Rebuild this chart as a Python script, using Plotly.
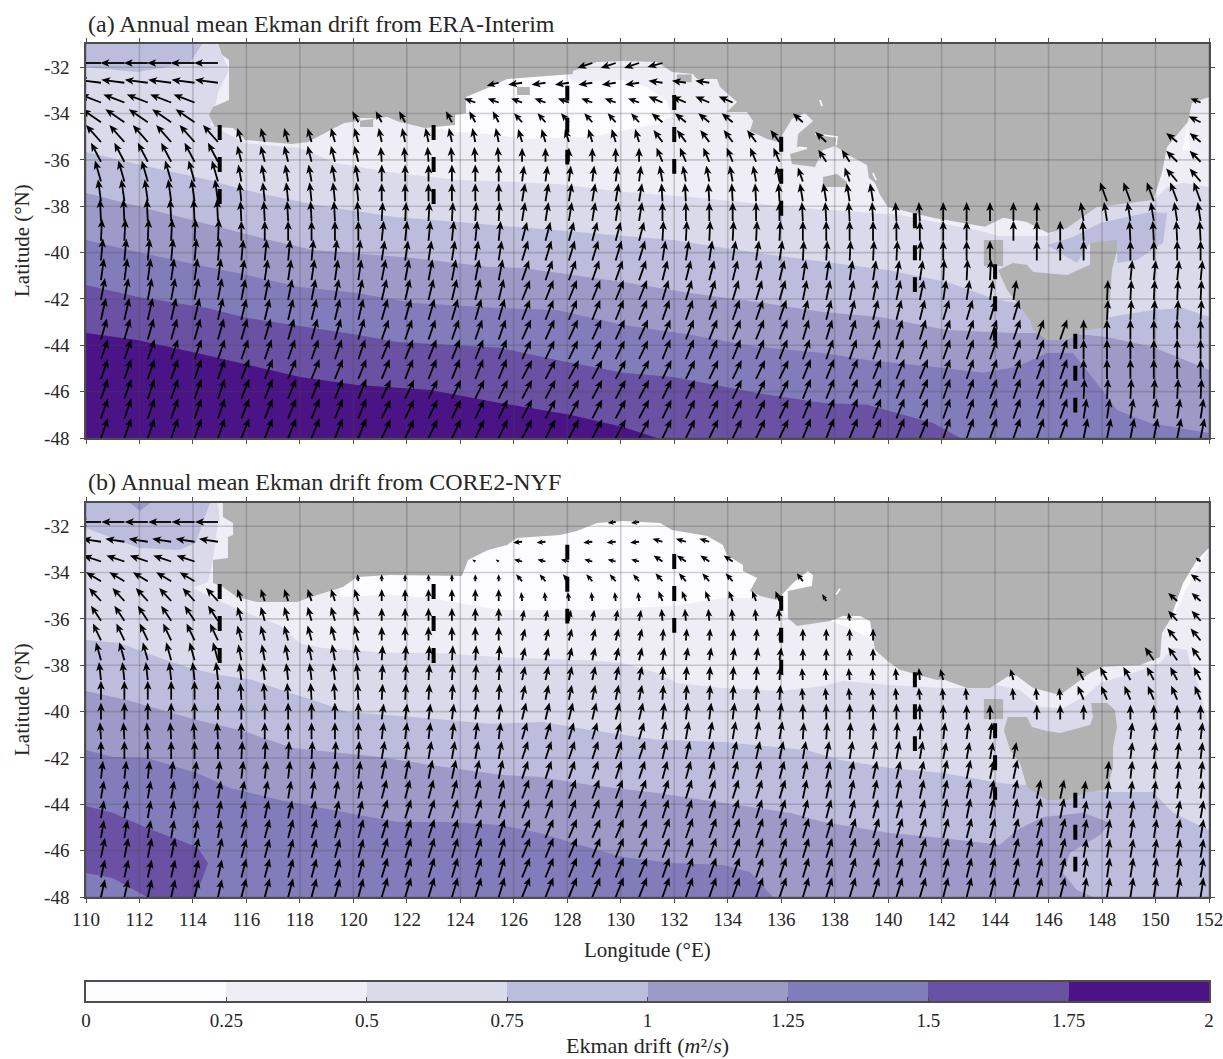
import numpy as np
import plotly.graph_objects as go

W, H = 1223, 1059
LEVELS = [0, 0.25, 0.5, 0.75, 1, 1.25, 1.5, 1.75, 2]
LEVEL_LABELS = ["0", "0.25", "0.5", "0.75", "1", "1.25", "1.5", "1.75", "2"]
COLORS = ["#fcfbfd", "#efedf5", "#dadaeb", "#bcbddc", "#9e9ac8", "#807dba", "#6a51a3", "#4a1486"]
LAND = "#b2b2b2"
LON_TICKS = list(range(110, 153, 2))
LAT_TICKS = list(range(-32, -49, -2))

# Arrow grid (tails)
ARROW_LON = [round(110.56 + 0.875 * j, 3) for j in range(48)]
ARROW_LAT = [round(-31.82 - 0.852 * r, 3) for r in range(20)]

# Quiver readings: one row per latitude, one value per block of six longitudes
U_A = [
 [-24,0,0,-15,-15,0,0,0],[-23,0,-12,-14,-14,0,0,0],[-21,0,-11,-11,-14,0,0,-10],[-19,-6,-6,-8,-11,-10,0,-12],
 [-15,-4,-3,-4,-9,-11,0,-11],[-10,-4,-1,0,-6,-8,0,-11],[-6,-3,0,2,-3,-5,0,-11],[-3,-2,0,3,-1,-3,0,-7],
 [-1,-1,1,3,0,-1,0,-3],[1,0,2,5,1,0,0,-1],[2,2,3,6,3,1,0,0],[3,3,4,7,5,3,1,2],
 [4,4,5,8,6,4,3,1],[5,5,6,8,7,5,6,1],[6,6,7,9,8,6,7,0],[7,7,8,9,8,7,7,0],
 [7,8,8,10,9,8,7,0],[7,8,9,10,9,8,7,1],[7,8,9,10,9,8,7,3],[7,8,9,10,9,8,7,4]]
V_A = [
 [0,0,0,-5,-4,0,0,0],[3,0,-3,-2,2,0,0,0],[8,0,4,4,6,0,0,4],[13,11,11,9,9,9,0,6],
 [17,14,14,13,12,10,0,9],[19,16,15,14,14,12,0,11],[21,17,17,16,16,14,0,13],[22,19,18,18,18,18,0,19],
 [22,20,19,19,19,19,19,19],[22,20,20,19,20,20,20,20],[22,21,20,20,20,20,20,20],[22,21,21,20,20,20,21,20],
 [22,21,21,20,20,20,20,20],[22,21,21,20,20,20,20,20],[21,21,20,20,20,20,20,20],[20,20,20,19,20,20,20,20],
 [20,20,20,19,19,20,20,20],[20,20,19,19,19,20,20,20],[20,20,19,19,19,20,20,20],[20,20,19,19,19,20,20,20]]
U_B = [
 [-23,0,0,-8,-8,0,0,0],[-19,0,0,-9,-10,0,0,0],[-18,0,-3,-8,-9,0,0,-5],[-15,-1,0,-6,-7,-6,0,-10],
 [-12,-4,0,-1,-4,-4,0,-9],[-10,-4,0,2,-1,-1,0,-9],[-8,-4,0,3,1,0,0,-10],[-5,-3,1,3,2,0,0,-9],
 [-2,-2,1,3,1,-1,-3,-7],[0,-1,1,3,1,-1,-1,-6],[0,0,2,4,2,0,0,0],[-1,0,2,5,3,1,2,2],
 [0,1,3,6,4,3,3,2],[2,2,4,6,5,4,4,2],[3,3,5,7,6,4,4,2],[3,4,6,7,6,5,4,3],
 [3,5,6,8,7,6,5,3],[4,5,6,8,7,6,5,3],[4,5,6,8,7,6,5,3],[4,5,6,8,7,6,5,3]]
V_B = [
 [0,0,0,-1,-1,0,0,0],[3,0,0,-1,3,0,0,0],[6,0,2,2,6,0,0,4],[9,7,7,7,8,8,0,7],
 [13,12,12,9,10,7,0,8],[15,14,13,11,12,8,0,10],[17,15,14,12,12,12,0,12],[18,16,15,13,13,12,0,13],
 [18,17,16,14,14,12,11,13],[19,17,16,15,15,12,12,14],[17,17,16,17,17,16,15,15],[17,17,17,17,18,17,17,17],
 [18,18,18,18,18,18,17,17],[18,18,19,18,18,18,19,18],[18,18,19,19,19,19,19,18],[18,18,19,19,19,19,20,18],
 [18,19,19,19,20,20,20,19],[20,19,20,20,20,20,20,19],[18,19,20,20,20,20,20,20],[18,19,20,20,20,20,20,20]]

# Column ranges with an arrow in each row
ALL = [(0, 47)]
DRAWN_A = [[(0,5),(21,24)],[(0,5),(17,26)],[(0,4),(16,27),(47,47)],[(0,4),(11,13),(15,27),(30,30),(47,47)],
 [(0,29),(31,31),(46,47)],[(0,29),(31,32),(46,47)],[(0,30),(32,32),(46,47)],[(0,33),(43,47)],
 [(0,40),(42,47)],[(0,37),(39,42),(44,47)],[(0,38),(40,42),(44,47)],[(0,38),(44,47)],
 [(0,39),(43,47)],[(0,39),(43,47)],ALL,ALL,ALL,ALL,ALL,ALL]
DRAWN_B = [[(0,5),(22,23)],[(0,5),(18,19),(21,26)],[(0,4),(16,27),(47,47)],[(0,4),(11,27),(30,30),(47,47)],
 [(0,29),(31,31),(46,47)],[(0,29),(32,32),(46,47)],[(0,33),(46,47)],[(0,33),(45,47)],
 [(0,36),(39,39),(42,47)],[(0,37),(39,47)],[(0,38),(40,42),(44,47)],[(0,38),(44,47)],
 [(0,39),(44,47)],[(0,39),(43,47)],ALL,ALL,ALL,ALL,ALL,ALL]

# Thick dashed sections
SECTION_LON = [115, 123, 128, 132, 136, 141, 144, 147]
SECTION_N = [-34.5, -34.5, -32.8, -33.2, -35.0, -38.3, -40.5, -43.5]
SECTION_S = [-38.0, -38.0, -36.2, -36.6, -38.5, -41.7, -43.8, -46.9]

# Land, panel a
LAND_A = [(114.94,-31),(115.09,-31.47),(115.35,-31.69),(115.35,-33.42),(114.75,-33.72),(114.6,-34.06),(114.82,-34.58),
 (115.5,-34.62),(115.95,-35.14),(117.7,-35.31),(118.3,-35.23),(119.65,-34.41),(121.26,-34.15),(121.7,-34.36),(122.68,-34.62),
 (123.8,-34.49),(123.8,-34.06),(124.21,-33.98),(124.21,-33.29),(125.11,-32.86),(125.75,-32.51),(127.35,-32.38),(128.21,-32.29),
 (128.21,-32.16),(129.11,-31.78),(130.08,-31.73),(131.36,-31.78),(131.92,-32.21),(132.7,-32.29),(132.85,-32.51),(133.6,-32.51),
 (133.71,-32.86),(134.35,-33.5),(133.97,-33.93),(134.72,-33.93),(134.95,-34.32),(134.83,-34.75),(135.47,-35.1),(135.88,-35.23),
 (136.4,-34.24),(136.89,-33.98),(137.19,-34.32),(136.63,-34.88),(136.59,-35.44),(136.97,-35.53),(136.33,-35.75),(136.4,-36.18),
 (137.26,-36.31),(137.56,-35.57),(138.01,-35.4),(138.65,-35.88),(139.21,-36.22),(139.28,-36.78),(139.51,-37),(139.7,-37.51),
 (139.99,-38.03),(140.89,-38.29),(141.68,-38.5),(143.62,-38.89),(144.3,-38.5),(145.19,-38.68),(145.98,-39.15),(146.69,-38.94),
 (147.81,-38.03),(149.91,-37.73),(150.24,-36.57),(150.43,-35.44),(151.21,-34.36),(151.36,-33.55),(152,-33.29),(152,-31)]
TAS_A = [(144.11,-40.75),(144.67,-40.45),(145.19,-40.53),(145.42,-40.84),(146.69,-40.97),(147.55,-40.53),(147.55,-39.58),
 (148.56,-39.46),(148.56,-39.89),(148.37,-40.75),(148.3,-42.04),(148.19,-43.21),(147.44,-43.34),(146.69,-43.77),(145.94,-43.77),
 (145.42,-43.34),(145.31,-42.91),(144.82,-42.17),(144.45,-41.61)]
KING_A = [(143.58,-39.46),(144.3,-39.46),(144.3,-40.58),(143.58,-40.58)]
KANGAROO_A = [(137.56,-36.74),(138.09,-36.61),(138.46,-36.95),(138.46,-37.17),(137.56,-37.17)]
ISLET1_A = [(126.12,-32.86),(126.6,-32.86),(126.6,-33.2),(126.12,-33.2)]
ISLET2_A = [(120.25,-34.19),(120.74,-34.19),(120.74,-34.58),(120.25,-34.58)]
ISLET3_A = [(132.1,-32.32),(132.65,-32.32),(132.65,-32.65),(132.1,-32.65)]
SPECKS_A = [[(137.45,-33.42),(137.53,-33.68)],[(139.43,-36.57),(139.55,-36.87)],
            [(137.26,-34.88),(138.09,-35.01),(138.05,-35.38)],[(136.65,-35.45),(136.97,-35.5)]]

# Land, panel b
LAND_B = [(115.12,-31),(115.12,-31.6),(115.5,-31.86),(115.5,-32.38),(115.31,-32.47),(115.31,-33.37),(114.75,-33.46),(114.75,-34.45),
 (115.12,-34.62),(115.65,-35.06),(116.4,-35.27),(117.89,-35.27),(118.64,-34.97),(119.61,-34.62),(120.14,-34.19),(121.37,-34.11),
 (124.06,-34.15),(124.29,-33.46),(125.03,-33.03),(125.75,-32.81),(126.12,-32.51),(127.73,-32.38),(128.36,-32.21),(129.11,-31.86),
 (130.08,-31.78),(131.47,-31.86),(131.92,-32.16),(133.23,-32.42),(133.82,-32.81),(133.97,-33.24),(134.57,-33.67),(134.57,-33.93),
 (135.1,-34.24),(134.83,-34.8),(135.21,-35.01),(135.84,-35.18),(136.44,-34.45),(137.0,-33.93),(137.19,-34.11),(137.15,-34.58),
 (136.25,-34.8),(136.25,-35.96),(136.59,-36.31),(137.83,-36.09),(138.31,-35.88),(138.95,-35.88),(139.32,-36.09),(139.51,-37.34),
 (140.07,-37.9),(140.44,-38.2),(141.83,-38.64),(142.05,-38.6),(142.95,-38.98),(143.81,-38.98),(144.67,-38.33),(145.42,-38.98),
 (146.43,-39.28),(147.55,-38.33),(148.04,-38.07),(149.42,-37.99),(150.17,-37.64),(150.24,-36.61),(150.54,-36.05),(151.03,-34.45),
 (151.55,-33.46),(152,-32.94),(152,-31)]
TAS_B = [(144.33,-40.79),(144.48,-40.23),(145.19,-40.23),(145.38,-40.66),(145.94,-40.84),(146.43,-40.92),(147.55,-40.58),(147.66,-40.23),
 (147.59,-39.63),(148.19,-39.63),(148.48,-39.93),(148.56,-40.66),(148.41,-41.53),(148.41,-42.39),(148.19,-43.38),(147.44,-43.47),
 (146.69,-43.81),(145.94,-43.81),(145.19,-43.25),(144.93,-42.22),(144.56,-41.66)]
KING_B = [(143.58,-39.46),(144.3,-39.46),(144.3,-40.32),(143.58,-40.32)]
SPECKS_B = [[(138.05,-34.95),(138.2,-34.7)]]

# Drift band outlines, panel a
WHITE_A = [[(121.18,-34.19),(121.56,-34.28),(123.8,-34.8),(125.11,-34.88),(126.34,-35.1),(128.85,-35.01),(131.36,-34.45),(131.92,-34.11),
            (131.73,-33.46),(130.98,-32.86),(130.08,-32.55),(128.21,-32.64),(127.95,-32.21),(125.48,-31.7),(121,-33.4)],
           [(151.0,-35.6),(151.2,-34.5),(151.3,-35.6)],[(148.4,-41.2),(148.8,-42),(148.5,-42.1)]]
EDGE_050_A = [(110,-31),(114.9,-31),(115.35,-32.12),(114.94,-33.07),(114.67,-34.49),(115.95,-35.27),(118,-35.49),(119.35,-36.13),(121.56,-36.57),
 (123.91,-36.87),(125.11,-36.91),(127.61,-37.04),(130.08,-37.38),(132.59,-37.6),(136.33,-38.03),(138.94,-38.25),(140.44,-38.38),(143.62,-39.11),
 (144.1,-39.28),(145.94,-39.28),(146.43,-38.85),(147.81,-37.95),(150.05,-37.6),(150.43,-37.17),(151.02,-37),(152,-37.17),(152,-48),(110,-48)]
PATCH_075_A = [[(110,-31),(110,-32),(111.94,-32.21),(113.89,-31.82),(114.34,-31)],
 [(150.43,-38.29),(150.28,-39.59),(149.31,-40.32),(148.56,-40.45),(148.56,-39.54),(147.55,-39.58),(147.06,-40.45),(145.94,-39.67),
  (146.91,-39.33),(147.92,-38.72),(149.79,-38.25)]]
EDGE_075_A = [(110,-35.66),(112.39,-36.31),(114.6,-36.87),(115.95,-37.3),(118.6,-37.95),(121.56,-38.46),(123.91,-38.68),(127.46,-39.02),(129.82,-39.24),
 (131.95,-39.46),(135.1,-40.02),(137.71,-40.4),(139.96,-40.75),(142.2,-41.27),(144.07,-42.04),(148.3,-42.78),(149.9,-42.48),(151.02,-42.39),(152,-42.78),(152,-48),(110,-48)]
EDGE_100_A = [(110,-37.43),(114.19,-38.68),(116.88,-39.46),(118.49,-39.89),(122.23,-40.23),(125.11,-40.62),(126.34,-40.66),(130.08,-41.27),(132.59,-41.74),
 (135.1,-42.13),(137.56,-42.56),(139.69,-42.78),(142.2,-43.34),(144.67,-43.47),(146.69,-43.47),(148.19,-43.64),(149.9,-44.07),(152,-45.06),(152,-48),(110,-48)]
EDGE_125_A = [(110,-39.46),(111.91,-39.97),(114.15,-40.53),(116.02,-40.97),(118,-41.48),(120.14,-41.74),(122.23,-42.17),(125.48,-42.39),(127.61,-42.48),
 (130.08,-43.12),(132.59,-43.55),(135.1,-44.07),(137.56,-44.33),(139.21,-44.63),(141.68,-44.93),(143.55,-45.19),(144.82,-44.93),(145.94,-44.33),(146.91,-44.33),
 (147.92,-45.8),(148.56,-46.79),(149.79,-47.35),(152,-47.78),(152,-48),(110,-48)]
EDGE_150_A = [(110,-41.4),(111.91,-41.91),(114.53,-42.39),(116.02,-42.82),(120.14,-43.55),(121.63,-43.86),(125.48,-44.11),(127.61,-44.63),(130.08,-45.19),
 (131.95,-45.37),(135.1,-46.06),(137.56,-46.49),(139.21,-46.57),(141.68,-47.35),(142.69,-48),(110,-48)]
EDGE_175_A = [(110,-43.47),(111.91,-43.77),(114.15,-44.33),(116.02,-44.85),(118,-45.37),(120.14,-45.71),(122.87,-45.93),(125.48,-46.49),(128.1,-47),
 (130.08,-47.52),(131.36,-48),(110,-48)]

# Drift band outlines, panel b
WHITE_B = [[(119.5,-35.06),(121.26,-34.97),(122.86,-35.1),(125.48,-35.62),(128.85,-35.62),(131.95,-35.44),(133.82,-35.1),(135.1,-35.1),(135.58,-34.75),
            (135.2,-32.6),(130,-31.5),(124.36,-33),(119.5,-34)],
           [(135.84,-35.18),(136.44,-34.45),(137.0,-33.93),(137.19,-34.11),(137.15,-34.58),(136.25,-34.8),(136.25,-35.96)],
           [(137.83,-36.09),(138.57,-36.39),(139.39,-36.91),(139.58,-37.47),(139.9,-37.2),(139.3,-35.5),(138.2,-35.5)],
           [(150.38,-36.2),(150.75,-35.7),(151.12,-34.8),(151.55,-33.85),(152,-33),(151.3,-33),(150.2,-36.2)]]
EDGE_050_B = [(110,-31),(114.94,-31),(115,-31.73),(114.9,-32.16),(114.75,-33.46),(114.56,-34.41),(114,-34.67),(114.64,-35.06),(116.02,-35.75),(117.25,-36.27),
 (118,-37.05),(118.86,-37.26),(121,-37.44),(123.5,-37.49),(125.48,-37.66),(128.85,-37.78),(130.08,-37.9),(131.36,-38.33),(132.1,-38.77),(133.82,-38.98),
 (135.96,-39.11),(137.56,-38.9),(138.31,-38.68),(140.07,-38.85),(142.05,-38.98),(143.62,-38.98),(144.07,-38.85),(144.93,-39.07),(145.68,-39.8),(146.54,-39.84),
 (147.44,-39.28),(147.92,-38.77),(149.16,-38.33),(150.17,-37.9),(150.65,-37.25),(151.18,-37.34),(151.29,-37.9),(151.59,-38.77),(152,-40.66),(152,-48),(110,-48)]
PATCH_075_B = [[(110,-31),(110,-32.08),(110.97,-32.51),(111.98,-32.94),(113.47,-33.03),(114.1,-32.73),(114.4,-31.73),(114.64,-31)]]
PATCH_100_B = [[(111.65,-31),(112.02,-31.34),(112.4,-31)]]
EDGE_075_B = [(110,-36.91),(111.27,-37.04),(112.66,-37.64),(113.89,-38.12),(115,-38.42),(116.25,-38.64),(117.63,-39.2),(118.49,-39.5),(119.76,-40.02),(122.23,-40.23),
 (125.11,-40.53),(127.09,-40.45),(128.85,-40.79),(131.36,-41.22),(133.82,-41.31),(136.96,-41.66),(138.2,-42.09),(140.07,-42.43),(142.05,-42.65),(144.18,-43.08),
 (148.19,-43.47),(149.9,-43.47),(150.65,-44.37),(152,-45.11),(152,-48),(110,-48)]
EDGE_100_B = [(110,-39.11),(111.53,-39.5),(114.15,-40.36),(115.76,-40.79),(117.74,-41.57),(119.5,-41.79),(121,-41.96),(122.87,-42.3),(125.48,-42.73),(126.98,-42.82),
 (128.85,-43.17),(131.36,-43.51),(133.82,-43.94),(136.33,-44.37),(137.56,-44.76),(140.07,-45.24),(141.68,-45.41),(144.18,-45.75),(144.82,-45.11),(145.79,-44.55),
 (147.29,-44.37),(148.3,-44.8),(147.92,-45.32),(146.8,-46.1),(146.54,-46.96),(147.06,-47.7),(147.66,-48),(110,-48)]
EDGE_125_B = [(110,-41.66),(111,-41.96),(112.28,-42),(114.15,-42.65),(115.39,-43.3),(117.25,-43.81),(119.76,-44.37),(121.63,-44.76),(123.5,-44.76),(125.48,-44.89),
 (126.98,-45.24),(128.21,-45.67),(130.08,-46.27),(131.95,-46.53),(133.82,-46.62),(134.83,-46.92),(135.69,-48),(110,-48)]
PATCH_150_B = [[(110,-44.07),(111,-44.37),(112.28,-45.02),(114.15,-45.84),(114.56,-46.53),(114.38,-47.13),(114.08,-48),(112.28,-48),(111,-47.18),(110,-46.96)]]

PX_PER_LON = 1123 / 42
PX_PER_LAT = 394 / 17
SERIF = "Liberation Serif"
INK = "#262626"
FRAME = "#4d4d4d"


def rings(polys):
    xs, ys = [], []
    for p in polys:
        xs += [q[0] for q in p] + [p[0][0], None]
        ys += [q[1] for q in p] + [p[0][1], None]
    return xs, ys


def fill(fig, polys, color, ax, ay):
    xs, ys = rings(polys)
    fig.add_trace(go.Scatter(x=xs, y=ys, xaxis=ax, yaxis=ay, mode="lines", fill="toself", fillcolor=color,
                             line=dict(width=0, color=color), hoverinfo="skip", showlegend=False))


def quiver(fig, U, V, drawn, ax, ay):
    lx, ly, hx, hy = [], [], [], []
    for r, ranges in enumerate(drawn):
        for a, b in ranges:
            for j in range(a, b + 1):
                u, v = U[r][j // 6], V[r][j // 6]
                n = (u * u + v * v) ** 0.5
                if n == 0:
                    continue
                x0, y0 = ARROW_LON[j], ARROW_LAT[r]
                ex, ey = u / n, v / n
                hl = min(9.0, 0.55 * n + 1.5)
                hw = hl * 0.42
                bx, by = u - ex * hl * 0.75, v - ey * hl * 0.75
                lx += [x0, x0 + bx / PX_PER_LON, None]
                ly += [y0, y0 + by / PX_PER_LAT, None]
                pts = [(u, v),
                       (u - ex * hl - ey * hw, v - ey * hl + ex * hw),
                       (bx, by),
                       (u - ex * hl + ey * hw, v - ey * hl - ex * hw),
                       (u, v)]
                hx += [x0 + p[0] / PX_PER_LON for p in pts] + [None]
                hy += [y0 + p[1] / PX_PER_LAT for p in pts] + [None]
    fig.add_trace(go.Scatter(x=lx, y=ly, xaxis=ax, yaxis=ay, mode="lines", line=dict(color="black", width=1.8),
                             hoverinfo="skip", showlegend=False))
    fig.add_trace(go.Scatter(x=hx, y=hy, xaxis=ax, yaxis=ay, mode="lines", fill="toself", fillcolor="black",
                             line=dict(width=0, color="black"), hoverinfo="skip", showlegend=False))


def panel(fig, ax, ay, white, e050, p075, e075, p100, e100, e125, e150, p150, e175, land, specks, U, V, drawn):
    fill(fig, [[(110, -31), (152, -31), (152, -48), (110, -48)]], COLORS[1], ax, ay)
    fill(fig, white, COLORS[0], ax, ay)
    fill(fig, [e050], COLORS[2], ax, ay)
    fill(fig, p075 + [e075], COLORS[3], ax, ay)
    fill(fig, p100 + [e100], COLORS[4], ax, ay)
    fill(fig, [e125], COLORS[5], ax, ay)
    fill(fig, p150 + ([e150] if e150 else []), COLORS[6], ax, ay)
    if e175:
        fill(fig, [e175], COLORS[7], ax, ay)
    fill(fig, land, LAND, ax, ay)
    sx, sy = [], []
    for s in specks:
        sx += [q[0] for q in s] + [None]
        sy += [q[1] for q in s] + [None]
    fig.add_trace(go.Scatter(x=sx, y=sy, xaxis=ax, yaxis=ay, mode="lines", line=dict(color="white", width=1.5),
                             hoverinfo="skip", showlegend=False))
    # grid drawn over the map
    gx, gy = [], []
    for t in LON_TICKS:
        gx += [t, t, None]
        gy += [-31, -48, None]
    for t in LAT_TICKS:
        gx += [110, 152, None]
        gy += [t, t, None]
    fig.add_trace(go.Scatter(x=gx, y=gy, xaxis=ax, yaxis=ay, mode="lines", line=dict(color="rgba(70,70,70,0.25)", width=1.6),
                             hoverinfo="skip", showlegend=False))
    quiver(fig, U, V, drawn, ax, ay)
    dx, dy = [], []
    for lo, n, s in zip(SECTION_LON, SECTION_N, SECTION_S):
        dx += [lo, lo, None]
        dy += [n, s, None]
    fig.add_trace(go.Scatter(x=dx, y=dy, xaxis=ax, yaxis=ay, mode="lines",
                             line=dict(color="black", width=4, dash="15px,17px"), hoverinfo="skip", showlegend=False))


fig = go.Figure()
panel(fig, "x", "y", WHITE_A, EDGE_050_A, PATCH_075_A, EDGE_075_A, [], EDGE_100_A, EDGE_125_A, EDGE_150_A, [], EDGE_175_A,
      [LAND_A, TAS_A, KING_A, KANGAROO_A, ISLET1_A, ISLET2_A, ISLET3_A], SPECKS_A, U_A, V_A, DRAWN_A)
panel(fig, "x2", "y2", WHITE_B, EDGE_050_B, PATCH_075_B, EDGE_075_B, PATCH_100_B, EDGE_100_B, EDGE_125_B, None, PATCH_150_B, None,
      [LAND_B, TAS_B, KING_B], SPECKS_B, U_B, V_B, DRAWN_B)

# colour bar
cs = []
for i, c in enumerate(COLORS):
    cs += [[i / 8, c], [(i + 1) / 8, c]]
fig.add_trace(go.Heatmap(z=[[(LEVELS[i] + LEVELS[i + 1]) / 2 for i in range(8)]], x=LEVELS, y=[0, 1], xaxis="x3", yaxis="y3",
                         zmin=0, zmax=2, colorscale=cs, showscale=False, hoverinfo="skip"))


def dom_x(a, b):
    return [a / W, b / W]


def dom_y(top, bottom):
    return [1 - bottom / H, 1 - top / H]


tick_font = dict(family=SERIF, size=19, color=INK)
common = dict(showgrid=False, zeroline=False, showline=True, linecolor=FRAME, linewidth=1.6, mirror="ticks", ticks="outside",
              ticklen=4, tickwidth=1.2, tickcolor=FRAME, tickfont=tick_font, automargin=False, ticklabeloverflow="allow")
xcommon = dict(common, range=[110, 152], domain=dom_x(86, 1209), tickmode="array", tickvals=LON_TICKS, ticktext=[str(t) for t in LON_TICKS])
ycommon = dict(common, range=[-48, -31], tickmode="array", tickvals=LAT_TICKS, ticktext=[str(t) for t in LAT_TICKS], ticklabelstandoff=7)

fig.update_layout(
    width=W, height=H, autosize=False, margin=dict(l=0, r=0, t=0, b=0, pad=0), paper_bgcolor="white", plot_bgcolor="white",
    showlegend=False, font=dict(family=SERIF, color=INK),
    xaxis=dict(xcommon, anchor="y", showticklabels=False),
    yaxis=dict(ycommon, anchor="x", domain=dom_y(44, 438)),
    xaxis2=dict(xcommon, anchor="y2"),
    yaxis2=dict(ycommon, anchor="x2", domain=dom_y(503, 897)),
    xaxis3=dict(showgrid=False, zeroline=False, showline=True, linecolor=FRAME, linewidth=1.6, mirror=True, range=[0, 2], domain=dom_x(86, 1209), automargin=False,
                anchor="y3", ticks="inside", ticklen=4, tickwidth=1.2, tickcolor=FRAME, tickmode="array", tickvals=LEVELS, ticktext=LEVEL_LABELS, tickfont=tick_font,
                ticklabelstandoff=1, ticklabeloverflow="allow"),
    yaxis3=dict(showgrid=False, zeroline=False, showline=True, linecolor=FRAME, linewidth=1.6, mirror=True, range=[0, 1], domain=dom_y(982, 1001), automargin=False,
                anchor="x3", showticklabels=False, ticks=""),
)


def note(text, px, py, size=18, anchor="center", angle=0):
    fig.add_annotation(text=text, x=px / W, y=1 - py / H, xref="paper", yref="paper", showarrow=False, xanchor=anchor, yanchor="middle",
                       textangle=angle, font=dict(family=SERIF, size=size, color=INK))


note("(a) Annual mean Ekman drift from ERA-Interim", 86, 24, size=24, anchor="left")
note("(b) Annual mean Ekman drift from CORE2-NYF", 86, 482, size=24, anchor="left")
note("Latitude (°N)", 22, 241, size=21, angle=-90)
note("Latitude (°N)", 22, 700, size=21, angle=-90)
note("Longitude (°E)", 647, 950, size=21)
note("Ekman drift (<i>m</i>²/<i>s</i>)", 647, 1045, size=22)

fig.write_html("out.html", post_script="document.body.style.margin='0';", config={"displayModeBar": False})
